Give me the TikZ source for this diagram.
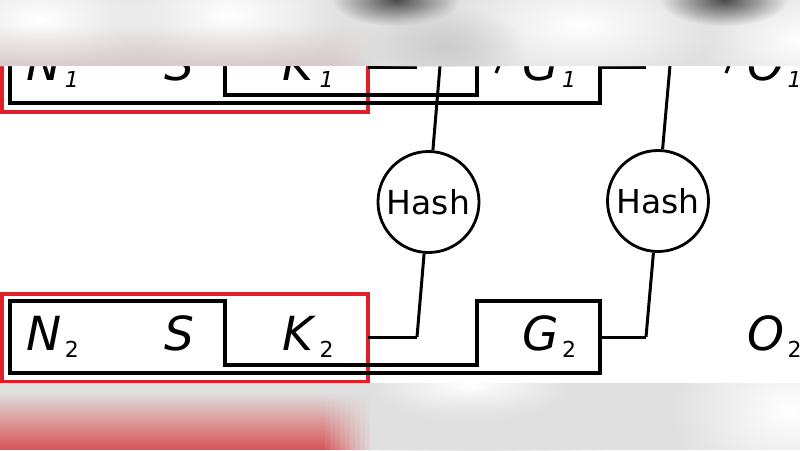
\documentclass[tikz,border=0pt]{standalone}
\usepackage{fontspec}
\setmainfont{DejaVu Sans}
\usetikzlibrary{fadings}
\definecolor{bandgray}{RGB}{224,224,224}
\definecolor{boxred}{RGB}{224,32,38}
\definecolor{redblur}{RGB}{214,84,86}
\definecolor{pinkblur}{RGB}{214,186,186}
\tikzfading[name=softblob, inner color=transparent!0, outer color=transparent!100]
\newcommand{\lbl}[2]{\textit{#1}\kern3pt\raisebox{-7pt}{\fontsize{22}{22}\selectfont #2}}
\begin{document}
\begin{tikzpicture}[x=1pt,y=-1pt,line width=3.4pt,
  hashnode/.style={circle,draw,line width=2.8pt,minimum size=101pt,inner sep=0pt,font=\fontsize{33}{33}\selectfont},
  letter/.style={anchor=base west,inner sep=0pt,font=\fontsize{47}{47}\selectfont},
  frame/.style={draw=boxred,line width=3.4pt},
  link/.style={line width=3pt}]
\useasboundingbox (0,0) rectangle (800,450);
% Zeilen
\begin{scope}
\clip (0,66) rectangle (800,383);
\foreach \oy/\rw/\ix in {0/2/2, -270/1/\textit{1}} {
  \draw[frame] (2,294+\oy) rectangle (368,382+\oy);
  \draw (10,301+\oy) -- (225,301+\oy) -- (225,365+\oy) -- (477,365+\oy) -- (477,301+\oy)
    -- (600,301+\oy) -- (600,373+\oy) -- (10,373+\oy) -- cycle;
  \node[letter] (N\rw) at (25,350+\oy) {\lbl{N}{\ix}};
  \node[letter] (S\rw) at (163,350+\oy) {\textit{S}};
  \node[letter] (K\rw) at (281,350+\oy) {\lbl{K}{\ix}};
  \node[letter] (G\rw) at (521,350+\oy) {\lbl{G}{\ix}};
  \node[letter] (O\rw) at (746,350+\oy) {\lbl{O}{\ix}};
  \coordinate (kr\rw) at (368,337+\oy);
  \coordinate (kc\rw) at (417,337+\oy);
  \coordinate (gr\rw) at (600,337+\oy);
  \coordinate (gc\rw) at (646,337+\oy);
  \draw[link] (kr\rw) -- (kc\rw);
  \draw[link] (gr\rw) -- (gc\rw);
}
% Hash
\node[hashnode] (hA) at (428.5,202) {Hash};
\node[hashnode] (hB) at (658,201) {Hash};
\coordinate (tA) at (445.6,0);
\coordinate (tB) at (675.8,0);
\draw[link] (kc2) -- (hA) -- (tA);
\draw[link] (gc2) -- (hB) -- (tB);
% Striche oben
\coordinate (pa) at (502,58);
\coordinate (pb) at (496,73);
\coordinate (qa) at (732,58);
\coordinate (qb) at (726,73);
\draw[link] (pa) -- (pb);
\draw[link] (qa) -- (qb);
\end{scope}
% unscharf oben
\begin{scope}
\clip (0,0) rectangle (800,66);
\fill[bandgray] (0,0) rectangle (800,66);
\fill[white,path fading=softblob] (40,20) ellipse (120 and 60);
\fill[white,path fading=softblob] (230,15) ellipse (120 and 60);
\fill[white,path fading=softblob] (580,25) ellipse (140 and 60);
\fill[white,path fading=softblob] (800,40) ellipse (100 and 60);
\foreach \k in {0,...,9}
  \fill[pinkblur,opacity=0.6*(1-\k/10),path fading=north] (330+\k*5,26) rectangle (335+\k*5,66);
\fill[pinkblur,opacity=0.6,path fading=north] (0,26) rectangle (330,66);
\fill[black!70,path fading=softblob] (396,0) ellipse (64 and 26);
\fill[black!70,path fading=softblob] (724,0) ellipse (64 and 26);
\fill[black!20,path fading=softblob] (445,46) ellipse (80 and 40);
\end{scope}
% unscharf unten
\begin{scope}
\clip (0,383) rectangle (800,450);
\fill[bandgray] (0,383) rectangle (800,450);
\fill[white,path fading=softblob] (790,410) ellipse (120 and 90);
\fill[white,path fading=softblob] (470,385) ellipse (100 and 40);
\fill[black!12,path fading=softblob] (480,440) ellipse (140 and 50);
\foreach \k in {0,...,9}
  \fill[redblur,opacity=1-\k/10,path fading=north] (320+\k*5,392) rectangle (325+\k*5,450);
\fill[redblur,path fading=north] (0,392) rectangle (320,450);
\end{scope}
\end{tikzpicture}
\end{document}
